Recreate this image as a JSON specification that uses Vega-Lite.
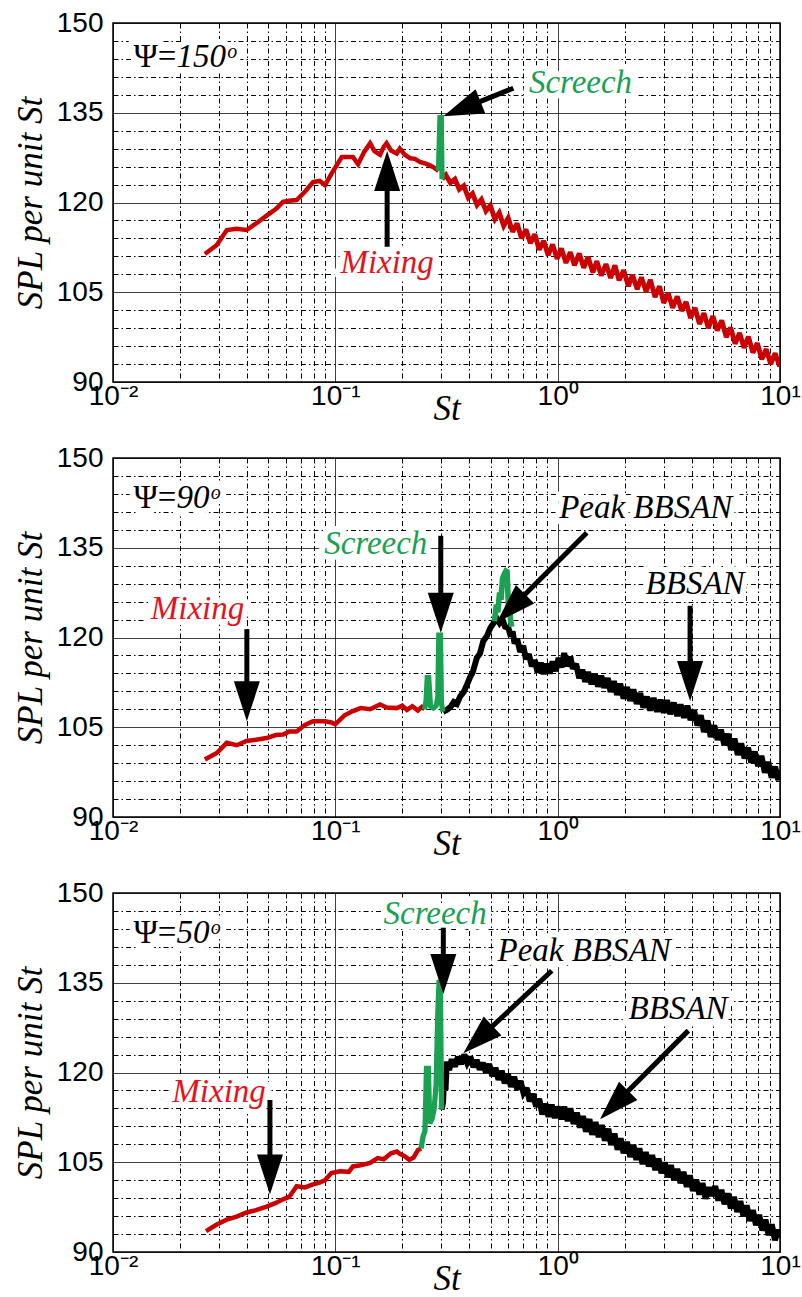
{
"$schema":"https://vega.github.io/schema/vega-lite/v6.json",
"padding":{"left":12,"top":8,"right":0,"bottom":0},
"bounds":"flush",
"spacing":76,
"background":"white",
"config":{
"view":{"stroke":"black","strokeWidth":1.5},
"axis":{"labelFont":"Liberation Sans","labelColor":"black","labelFontSize":28,"titleFont":"Liberation Serif","titleFontStyle":"italic","titleFontWeight":"normal","titleFontSize":35,"titleColor":"black","ticks":false,"domain":false,"grid":true,"gridColor":"black","gridWidth":1,"gridOpacity":1,"tickCount":40}
},
"datasets":{
"curves":[
{"p":1,"s":"r1","St":0.0259,"v":111.4},{"p":1,"s":"r1","St":0.0293,"v":112.9},{"p":1,"s":"r1","St":0.0325,"v":115.4},{"p":1,"s":"r1","St":0.036,"v":115.6},{"p":1,"s":"r1","St":0.0399,"v":115.4},{"p":1,"s":"r1","St":0.044,"v":116.5},{"p":1,"s":"r1","St":0.0491,"v":117.8},{"p":1,"s":"r1","St":0.054,"v":118.9},{"p":1,"s":"r1","St":0.0582,"v":120.1},{"p":1,"s":"r1","St":0.062,"v":120.3},{"p":1,"s":"r1","St":0.067,"v":120.4},{"p":1,"s":"r1","St":0.073,"v":121.8},{"p":1,"s":"r1","St":0.0794,"v":123.4},{"p":1,"s":"r1","St":0.085,"v":123.6},{"p":1,"s":"r1","St":0.0899,"v":122.9},{"p":1,"s":"r1","St":0.096,"v":124.8},{"p":1,"s":"r1","St":0.1069,"v":127.6},{"p":1,"s":"r1","St":0.12,"v":127.6},{"p":1,"s":"r1","St":0.1265,"v":126.4},{"p":1,"s":"r1","St":0.135,"v":128.5},{"p":1,"s":"r1","St":0.1433,"v":129.9},{"p":1,"s":"r1","St":0.15,"v":128.6},{"p":1,"s":"r1","St":0.159,"v":128.0},{"p":1,"s":"r1","St":0.165,"v":129.3},{"p":1,"s":"r1","St":0.17,"v":129.9},{"p":1,"s":"r1","St":0.178,"v":128.7},{"p":1,"s":"r1","St":0.189,"v":128.2},{"p":1,"s":"r1","St":0.195,"v":129.0},{"p":1,"s":"r1","St":0.205,"v":128.0},{"p":1,"s":"r1","St":0.217,"v":127.4},{"p":1,"s":"r1","St":0.228,"v":127.3},{"p":1,"s":"r1","St":0.24,"v":126.8},{"p":1,"s":"r1","St":0.255,"v":126.5},{"p":1,"s":"r1","St":0.266,"v":126.2},{"p":1,"s":"r1","St":0.276,"v":125.9},{"p":1,"s":"r1","St":0.291,"v":125.3},
{"p":1,"s":"r2","St":0.302,"v":123.9},{"p":1,"s":"r2","St":0.314,"v":124.6},{"p":1,"s":"r2","St":0.329,"v":123.3},{"p":1,"s":"r2","St":0.345,"v":123.9},{"p":1,"s":"r2","St":0.361,"v":122.2},{"p":1,"s":"r2","St":0.378,"v":122.8},{"p":1,"s":"r2","St":0.396,"v":120.8},{"p":1,"s":"r2","St":0.414,"v":121.5},{"p":1,"s":"r2","St":0.434,"v":119.6},{"p":1,"s":"r2","St":0.454,"v":120.5},{"p":1,"s":"r2","St":0.476,"v":118.6},{"p":1,"s":"r2","St":0.498,"v":119.5},{"p":1,"s":"r2","St":0.522,"v":117.2},{"p":1,"s":"r2","St":0.546,"v":118.3},{"p":1,"s":"r2","St":0.572,"v":116.1},{"p":1,"s":"r2","St":0.599,"v":117.4},{"p":1,"s":"r2","St":0.627,"v":115.1},{"p":1,"s":"r2","St":0.657,"v":116.5},{"p":1,"s":"r2","St":0.688,"v":114.0},{"p":1,"s":"r2","St":0.72,"v":115.5},{"p":1,"s":"r2","St":0.754,"v":113.2},{"p":1,"s":"r2","St":0.789,"v":114.7},{"p":1,"s":"r2","St":0.826,"v":112.1},{"p":1,"s":"r2","St":0.865,"v":113.6},{"p":1,"s":"r2","St":0.906,"v":111.2},{"p":1,"s":"r2","St":0.949,"v":113.0},{"p":1,"s":"r2","St":0.994,"v":110.6},{"p":1,"s":"r2","St":1.04,"v":112.3},{"p":1,"s":"r2","St":1.09,"v":109.9},{"p":1,"s":"r2","St":1.14,"v":111.7},{"p":1,"s":"r2","St":1.19,"v":109.5},{"p":1,"s":"r2","St":1.25,"v":111.5},{"p":1,"s":"r2","St":1.31,"v":109.1},{"p":1,"s":"r2","St":1.37,"v":110.9},{"p":1,"s":"r2","St":1.44,"v":108.3},{"p":1,"s":"r2","St":1.5,"v":110.2},{"p":1,"s":"r2","St":1.57,"v":107.8},{"p":1,"s":"r2","St":1.65,"v":109.7},{"p":1,"s":"r2","St":1.73,"v":107.4},{"p":1,"s":"r2","St":1.81,"v":109.5},{"p":1,"s":"r2","St":1.89,"v":107.0},{"p":1,"s":"r2","St":1.98,"v":108.7},{"p":1,"s":"r2","St":2.08,"v":106.0},{"p":1,"s":"r2","St":2.17,"v":107.9},{"p":1,"s":"r2","St":2.28,"v":105.5},{"p":1,"s":"r2","St":2.38,"v":107.5},{"p":1,"s":"r2","St":2.5,"v":105.1},{"p":1,"s":"r2","St":2.61,"v":107.1},{"p":1,"s":"r2","St":2.74,"v":104.2},{"p":1,"s":"r2","St":2.87,"v":106.0},{"p":1,"s":"r2","St":3.0,"v":103.2},{"p":1,"s":"r2","St":3.14,"v":104.9},{"p":1,"s":"r2","St":3.29,"v":102.4},{"p":1,"s":"r2","St":3.45,"v":104.3},{"p":1,"s":"r2","St":3.61,"v":101.9},{"p":1,"s":"r2","St":3.78,"v":103.4},{"p":1,"s":"r2","St":3.96,"v":100.7},{"p":1,"s":"r2","St":4.15,"v":102.4},{"p":1,"s":"r2","St":4.34,"v":99.7},{"p":1,"s":"r2","St":4.55,"v":101.5},{"p":1,"s":"r2","St":4.76,"v":99.0},{"p":1,"s":"r2","St":4.99,"v":101.0},{"p":1,"s":"r2","St":5.22,"v":98.6},{"p":1,"s":"r2","St":5.47,"v":100.3},{"p":1,"s":"r2","St":5.73,"v":97.5},{"p":1,"s":"r2","St":6.0,"v":99.1},{"p":1,"s":"r2","St":6.28,"v":96.4},{"p":1,"s":"r2","St":6.58,"v":98.2},{"p":1,"s":"r2","St":6.89,"v":95.7},{"p":1,"s":"r2","St":7.21,"v":97.6},{"p":1,"s":"r2","St":7.55,"v":94.9},{"p":1,"s":"r2","St":7.91,"v":96.5},{"p":1,"s":"r2","St":8.28,"v":93.8},{"p":1,"s":"r2","St":8.67,"v":95.5},{"p":1,"s":"r2","St":9.08,"v":93.0},{"p":1,"s":"r2","St":9.51,"v":94.8},{"p":1,"s":"r2","St":9.96,"v":92.6},{"p":1,"s":"r2","St":10.0,"v":94.0},
{"p":1,"s":"g1","St":0.291,"v":125.3},{"p":1,"s":"g1","St":0.2955,"v":134.2},{"p":1,"s":"g1","St":0.2995,"v":134.2},{"p":1,"s":"g1","St":0.302,"v":123.9},

{"p":2,"s":"r1","St":0.0259,"v":99.6},{"p":2,"s":"r1","St":0.0293,"v":100.7},{"p":2,"s":"r1","St":0.0325,"v":102.4},{"p":2,"s":"r1","St":0.036,"v":102.0},{"p":2,"s":"r1","St":0.0399,"v":102.7},{"p":2,"s":"r1","St":0.044,"v":102.9},{"p":2,"s":"r1","St":0.0491,"v":103.2},{"p":2,"s":"r1","St":0.054,"v":103.7},{"p":2,"s":"r1","St":0.0582,"v":103.8},{"p":2,"s":"r1","St":0.062,"v":104.3},{"p":2,"s":"r1","St":0.067,"v":104.3},{"p":2,"s":"r1","St":0.073,"v":105.4},{"p":2,"s":"r1","St":0.0794,"v":106.0},{"p":2,"s":"r1","St":0.0899,"v":106.0},{"p":2,"s":"r1","St":0.096,"v":105.8},{"p":2,"s":"r1","St":0.1,"v":105.5},{"p":2,"s":"r1","St":0.11,"v":107.0},{"p":2,"s":"r1","St":0.12,"v":107.7},{"p":2,"s":"r1","St":0.13,"v":108.2},{"p":2,"s":"r1","St":0.1433,"v":108.0},{"p":2,"s":"r1","St":0.159,"v":108.8},{"p":2,"s":"r1","St":0.17,"v":108.3},{"p":2,"s":"r1","St":0.189,"v":108.2},{"p":2,"s":"r1","St":0.2,"v":108.6},{"p":2,"s":"r1","St":0.21,"v":107.9},{"p":2,"s":"r1","St":0.222,"v":108.5},{"p":2,"s":"r1","St":0.235,"v":107.8},{"p":2,"s":"r1","St":0.245,"v":108.4},{"p":2,"s":"r1","St":0.252,"v":108.0},
{"p":2,"s":"k","St":0.305,"v":107.6},{"p":2,"s":"k","St":0.317,"v":107.9},{"p":2,"s":"k","St":0.33,"v":108.4},{"p":2,"s":"k","St":0.341,"v":109.2},{"p":2,"s":"k","St":0.352,"v":108.9},{"p":2,"s":"k","St":0.365,"v":110.2},{"p":2,"s":"k","St":0.378,"v":110.9},{"p":2,"s":"k","St":0.39,"v":112.0},{"p":2,"s":"k","St":0.403,"v":113.3},{"p":2,"s":"k","St":0.415,"v":114.2},{"p":2,"s":"k","St":0.433,"v":116.6},{"p":2,"s":"k","St":0.447,"v":117.3},{"p":2,"s":"k","St":0.463,"v":119.4},{"p":2,"s":"k","St":0.48,"v":120.2},{"p":2,"s":"k","St":0.498,"v":121.6},{"p":2,"s":"k","St":0.515,"v":122.4},{"p":2,"s":"k","St":0.532,"v":123.2},{"p":2,"s":"k","St":0.548,"v":122.4},{"p":2,"s":"k","St":0.565,"v":123.0},{"p":2,"s":"k","St":0.58,"v":121.8},{"p":2,"s":"k","St":0.6,"v":121.6},{"p":2,"s":"k","St":0.615,"v":120.2},{"p":2,"s":"k","St":0.627,"v":121.0},{"p":2,"s":"k","St":0.64,"v":119.0},{"p":2,"s":"k","St":0.657,"v":119.8},{"p":2,"s":"k","St":0.678,"v":117.6},{"p":2,"s":"k","St":0.7,"v":118.6},{"p":2,"s":"k","St":0.72,"v":116.4},{"p":2,"s":"k","St":0.742,"v":117.2},{"p":2,"s":"k","St":0.765,"v":115.2},{"p":2,"s":"k","St":0.789,"v":116.2},{"p":2,"s":"k","St":0.812,"v":114.2},{"p":2,"s":"k","St":0.84,"v":115.8},{"p":2,"s":"k","St":0.865,"v":113.9},{"p":2,"s":"k","St":0.89,"v":115.6},{"p":2,"s":"k","St":0.92,"v":114.0},{"p":2,"s":"k","St":0.949,"v":116.0},{"p":2,"s":"k","St":0.98,"v":114.4},{"p":2,"s":"k","St":1.01,"v":116.6},{"p":2,"s":"k","St":1.04,"v":115.0},{"p":2,"s":"k","St":1.07,"v":117.4},{"p":2,"s":"k","St":1.1,"v":115.2},{"p":2,"s":"k","St":1.14,"v":116.8},{"p":2,"s":"k","St":1.17,"v":114.8},{"p":2,"s":"k","St":1.21,"v":115.6},{"p":2,"s":"k","St":1.25,"v":113.2},{"p":2,"s":"k","St":1.29,"v":114.6},{"p":2,"s":"k","St":1.33,"v":112.6},{"p":2,"s":"k","St":1.37,"v":114.2},{"p":2,"s":"k","St":1.42,"v":112.2},{"p":2,"s":"k","St":1.47,"v":113.9},{"p":2,"s":"k","St":1.52,"v":111.8},{"p":2,"s":"k","St":1.57,"v":113.6},{"p":2,"s":"k","St":1.62,"v":111.6},{"p":2,"s":"k","St":1.68,"v":113.2},{"p":2,"s":"k","St":1.73,"v":110.9},{"p":2,"s":"k","St":1.79,"v":112.7},{"p":2,"s":"k","St":1.85,"v":110.4},{"p":2,"s":"k","St":1.91,"v":112.3},{"p":2,"s":"k","St":1.98,"v":109.8},{"p":2,"s":"k","St":2.05,"v":111.7},{"p":2,"s":"k","St":2.12,"v":109.4},{"p":2,"s":"k","St":2.19,"v":111.3},{"p":2,"s":"k","St":2.27,"v":108.9},{"p":2,"s":"k","St":2.35,"v":110.7},{"p":2,"s":"k","St":2.43,"v":108.3},{"p":2,"s":"k","St":2.52,"v":110.1},{"p":2,"s":"k","St":2.61,"v":107.8},{"p":2,"s":"k","St":2.7,"v":109.9},{"p":2,"s":"k","St":2.8,"v":107.6},{"p":2,"s":"k","St":2.9,"v":109.6},{"p":2,"s":"k","St":3.0,"v":107.4},{"p":2,"s":"k","St":3.1,"v":109.5},{"p":2,"s":"k","St":3.21,"v":107.2},{"p":2,"s":"k","St":3.33,"v":109.1},{"p":2,"s":"k","St":3.45,"v":106.9},{"p":2,"s":"k","St":3.57,"v":108.8},{"p":2,"s":"k","St":3.7,"v":106.6},{"p":2,"s":"k","St":3.83,"v":108.6},{"p":2,"s":"k","St":3.96,"v":106.2},{"p":2,"s":"k","St":4.1,"v":107.9},{"p":2,"s":"k","St":4.25,"v":105.3},{"p":2,"s":"k","St":4.4,"v":107.0},{"p":2,"s":"k","St":4.55,"v":104.2},{"p":2,"s":"k","St":4.72,"v":106.1},{"p":2,"s":"k","St":4.88,"v":103.4},{"p":2,"s":"k","St":5.06,"v":105.3},{"p":2,"s":"k","St":5.24,"v":102.9},{"p":2,"s":"k","St":5.42,"v":104.6},{"p":2,"s":"k","St":5.62,"v":102.0},{"p":2,"s":"k","St":5.82,"v":103.9},{"p":2,"s":"k","St":6.03,"v":101.2},{"p":2,"s":"k","St":6.24,"v":103.1},{"p":2,"s":"k","St":6.46,"v":100.4},{"p":2,"s":"k","St":6.69,"v":102.3},{"p":2,"s":"k","St":6.93,"v":99.8},{"p":2,"s":"k","St":7.18,"v":101.6},{"p":2,"s":"k","St":7.43,"v":99.1},{"p":2,"s":"k","St":7.7,"v":100.9},{"p":2,"s":"k","St":7.97,"v":98.5},{"p":2,"s":"k","St":8.25,"v":100.2},{"p":2,"s":"k","St":8.55,"v":97.4},{"p":2,"s":"k","St":8.85,"v":99.2},{"p":2,"s":"k","St":9.17,"v":96.6},{"p":2,"s":"k","St":9.5,"v":98.4},{"p":2,"s":"k","St":9.83,"v":96.2},{"p":2,"s":"k","St":10.0,"v":97.8},
{"p":2,"s":"g1","St":0.252,"v":108.0},{"p":2,"s":"g1","St":0.256,"v":109.5},{"p":2,"s":"g1","St":0.259,"v":113.3},{"p":2,"s":"g1","St":0.263,"v":113.3},{"p":2,"s":"g1","St":0.268,"v":108.5},{"p":2,"s":"g1","St":0.276,"v":108.2},{"p":2,"s":"g1","St":0.284,"v":108.6},{"p":2,"s":"g1","St":0.289,"v":110.0},{"p":2,"s":"g1","St":0.292,"v":120.4},{"p":2,"s":"g1","St":0.297,"v":120.4},{"p":2,"s":"g1","St":0.3,"v":109.0},{"p":2,"s":"g1","St":0.305,"v":107.6},
{"p":2,"s":"g2","St":0.52,"v":122.7},{"p":2,"s":"g2","St":0.53,"v":125.5},{"p":2,"s":"g2","St":0.538,"v":124.2},{"p":2,"s":"g2","St":0.548,"v":127.5},{"p":2,"s":"g2","St":0.556,"v":126.3},{"p":2,"s":"g2","St":0.565,"v":129.8},{"p":2,"s":"g2","St":0.575,"v":130.6},{"p":2,"s":"g2","St":0.585,"v":131.1},{"p":2,"s":"g2","St":0.592,"v":131.0},{"p":2,"s":"g2","St":0.598,"v":127.0},{"p":2,"s":"g2","St":0.603,"v":124.0},{"p":2,"s":"g2","St":0.608,"v":125.5},{"p":2,"s":"g2","St":0.614,"v":122.8},{"p":2,"s":"g2","St":0.622,"v":121.8},

{"p":3,"s":"r1","St":0.0262,"v":93.5},{"p":3,"s":"r1","St":0.0293,"v":94.6},{"p":3,"s":"r1","St":0.0325,"v":95.4},{"p":3,"s":"r1","St":0.036,"v":95.9},{"p":3,"s":"r1","St":0.0399,"v":96.6},{"p":3,"s":"r1","St":0.044,"v":97.0},{"p":3,"s":"r1","St":0.0491,"v":97.6},{"p":3,"s":"r1","St":0.054,"v":98.2},{"p":3,"s":"r1","St":0.0582,"v":98.8},{"p":3,"s":"r1","St":0.062,"v":99.2},{"p":3,"s":"r1","St":0.067,"v":101.0},{"p":3,"s":"r1","St":0.073,"v":100.8},{"p":3,"s":"r1","St":0.0794,"v":101.3},{"p":3,"s":"r1","St":0.085,"v":101.6},{"p":3,"s":"r1","St":0.0899,"v":102.0},{"p":3,"s":"r1","St":0.096,"v":103.2},{"p":3,"s":"r1","St":0.105,"v":103.5},{"p":3,"s":"r1","St":0.115,"v":103.4},{"p":3,"s":"r1","St":0.12,"v":104.3},{"p":3,"s":"r1","St":0.13,"v":104.5},{"p":3,"s":"r1","St":0.1433,"v":104.9},{"p":3,"s":"r1","St":0.155,"v":105.7},{"p":3,"s":"r1","St":0.165,"v":105.5},{"p":3,"s":"r1","St":0.178,"v":106.5},{"p":3,"s":"r1","St":0.189,"v":106.8},{"p":3,"s":"r1","St":0.195,"v":106.4},{"p":3,"s":"r1","St":0.205,"v":106.0},{"p":3,"s":"r1","St":0.215,"v":105.4},{"p":3,"s":"r1","St":0.225,"v":105.8},{"p":3,"s":"r1","St":0.235,"v":107.0},{"p":3,"s":"r1","St":0.243,"v":107.3},
{"p":3,"s":"k","St":0.3005,"v":113.8},{"p":3,"s":"k","St":0.305,"v":115.0},{"p":3,"s":"k","St":0.309,"v":119.5},{"p":3,"s":"k","St":0.313,"v":117.0},{"p":3,"s":"k","St":0.317,"v":121.8},{"p":3,"s":"k","St":0.325,"v":120.4},{"p":3,"s":"k","St":0.334,"v":122.2},{"p":3,"s":"k","St":0.345,"v":121.0},{"p":3,"s":"k","St":0.356,"v":122.6},{"p":3,"s":"k","St":0.368,"v":121.4},{"p":3,"s":"k","St":0.38,"v":123.0},{"p":3,"s":"k","St":0.392,"v":121.6},{"p":3,"s":"k","St":0.405,"v":122.6},{"p":3,"s":"k","St":0.418,"v":120.9},{"p":3,"s":"k","St":0.432,"v":122.1},{"p":3,"s":"k","St":0.446,"v":120.5},{"p":3,"s":"k","St":0.461,"v":121.6},{"p":3,"s":"k","St":0.476,"v":120.0},{"p":3,"s":"k","St":0.492,"v":121.4},{"p":3,"s":"k","St":0.508,"v":119.4},{"p":3,"s":"k","St":0.525,"v":120.8},{"p":3,"s":"k","St":0.542,"v":118.8},{"p":3,"s":"k","St":0.56,"v":120.3},{"p":3,"s":"k","St":0.578,"v":118.2},{"p":3,"s":"k","St":0.597,"v":119.8},{"p":3,"s":"k","St":0.617,"v":117.6},{"p":3,"s":"k","St":0.637,"v":119.3},{"p":3,"s":"k","St":0.658,"v":117.2},{"p":3,"s":"k","St":0.68,"v":118.6},{"p":3,"s":"k","St":0.702,"v":116.6},{"p":3,"s":"k","St":0.725,"v":117.4},{"p":3,"s":"k","St":0.749,"v":115.2},{"p":3,"s":"k","St":0.774,"v":116.4},{"p":3,"s":"k","St":0.8,"v":114.3},{"p":3,"s":"k","St":0.826,"v":115.6},{"p":3,"s":"k","St":0.853,"v":113.0},{"p":3,"s":"k","St":0.881,"v":114.8},{"p":3,"s":"k","St":0.91,"v":112.6},{"p":3,"s":"k","St":0.94,"v":114.6},{"p":3,"s":"k","St":0.971,"v":112.4},{"p":3,"s":"k","St":1.0,"v":114.3},{"p":3,"s":"k","St":1.04,"v":112.2},{"p":3,"s":"k","St":1.07,"v":114.3},{"p":3,"s":"k","St":1.11,"v":111.9},{"p":3,"s":"k","St":1.14,"v":114.0},{"p":3,"s":"k","St":1.18,"v":111.4},{"p":3,"s":"k","St":1.22,"v":113.3},{"p":3,"s":"k","St":1.26,"v":110.8},{"p":3,"s":"k","St":1.3,"v":112.7},{"p":3,"s":"k","St":1.34,"v":110.1},{"p":3,"s":"k","St":1.39,"v":112.2},{"p":3,"s":"k","St":1.43,"v":109.6},{"p":3,"s":"k","St":1.48,"v":111.7},{"p":3,"s":"k","St":1.53,"v":109.2},{"p":3,"s":"k","St":1.58,"v":111.2},{"p":3,"s":"k","St":1.63,"v":108.6},{"p":3,"s":"k","St":1.69,"v":110.6},{"p":3,"s":"k","St":1.74,"v":107.9},{"p":3,"s":"k","St":1.8,"v":109.8},{"p":3,"s":"k","St":1.86,"v":107.1},{"p":3,"s":"k","St":1.92,"v":109.0},{"p":3,"s":"k","St":1.98,"v":106.5},{"p":3,"s":"k","St":2.05,"v":108.4},{"p":3,"s":"k","St":2.12,"v":105.9},{"p":3,"s":"k","St":2.19,"v":107.9},{"p":3,"s":"k","St":2.26,"v":105.4},{"p":3,"s":"k","St":2.33,"v":107.3},{"p":3,"s":"k","St":2.41,"v":104.7},{"p":3,"s":"k","St":2.49,"v":106.7},{"p":3,"s":"k","St":2.57,"v":104.3},{"p":3,"s":"k","St":2.66,"v":106.2},{"p":3,"s":"k","St":2.75,"v":103.7},{"p":3,"s":"k","St":2.84,"v":105.6},{"p":3,"s":"k","St":2.93,"v":103.2},{"p":3,"s":"k","St":3.03,"v":105.0},{"p":3,"s":"k","St":3.13,"v":102.5},{"p":3,"s":"k","St":3.23,"v":104.5},{"p":3,"s":"k","St":3.34,"v":102.0},{"p":3,"s":"k","St":3.45,"v":103.9},{"p":3,"s":"k","St":3.57,"v":101.5},{"p":3,"s":"k","St":3.68,"v":103.4},{"p":3,"s":"k","St":3.81,"v":100.9},{"p":3,"s":"k","St":3.93,"v":102.8},{"p":3,"s":"k","St":4.06,"v":100.2},{"p":3,"s":"k","St":4.2,"v":102.1},{"p":3,"s":"k","St":4.34,"v":99.6},{"p":3,"s":"k","St":4.48,"v":101.5},{"p":3,"s":"k","St":4.63,"v":98.9},{"p":3,"s":"k","St":4.79,"v":100.8},{"p":3,"s":"k","St":4.94,"v":99.4},{"p":3,"s":"k","St":5.11,"v":101.0},{"p":3,"s":"k","St":5.28,"v":98.6},{"p":3,"s":"k","St":5.45,"v":100.4},{"p":3,"s":"k","St":5.63,"v":98.0},{"p":3,"s":"k","St":5.82,"v":99.8},{"p":3,"s":"k","St":6.01,"v":97.3},{"p":3,"s":"k","St":6.21,"v":99.2},{"p":3,"s":"k","St":6.42,"v":96.7},{"p":3,"s":"k","St":6.63,"v":98.5},{"p":3,"s":"k","St":6.85,"v":96.0},{"p":3,"s":"k","St":7.08,"v":97.8},{"p":3,"s":"k","St":7.31,"v":95.2},{"p":3,"s":"k","St":7.55,"v":97.0},{"p":3,"s":"k","St":7.8,"v":94.5},{"p":3,"s":"k","St":8.06,"v":96.2},{"p":3,"s":"k","St":8.33,"v":93.6},{"p":3,"s":"k","St":8.6,"v":95.4},{"p":3,"s":"k","St":8.89,"v":92.8},{"p":3,"s":"k","St":9.18,"v":94.6},{"p":3,"s":"k","St":9.49,"v":92.0},{"p":3,"s":"k","St":9.8,"v":93.7},{"p":3,"s":"k","St":10.0,"v":92.4},
{"p":3,"s":"g1","St":0.243,"v":107.3},{"p":3,"s":"g1","St":0.248,"v":109.3},{"p":3,"s":"g1","St":0.253,"v":110.2},{"p":3,"s":"g1","St":0.257,"v":120.7},{"p":3,"s":"g1","St":0.262,"v":120.7},{"p":3,"s":"g1","St":0.266,"v":111.5},{"p":3,"s":"g1","St":0.272,"v":112.2},{"p":3,"s":"g1","St":0.278,"v":113.8},{"p":3,"s":"g1","St":0.284,"v":118.0},{"p":3,"s":"g1","St":0.289,"v":130.0},{"p":3,"s":"g1","St":0.293,"v":135.5},{"p":3,"s":"g1","St":0.297,"v":133.0},{"p":3,"s":"g1","St":0.3005,"v":113.8}
],
"arrows":[
{"p":1,"x":0.171,"y":112.6,"x2":0.171,"y2":128.6},
{"p":1,"x":0.632,"y":139.1,"x2":0.306,"y2":134.4},
{"p":2,"x":0.040,"y":121.4,"x2":0.040,"y2":106.0},
{"p":2,"x":0.298,"y":137.0,"x2":0.298,"y2":120.8},
{"p":2,"x":1.352,"y":137.5,"x2":0.532,"y2":122.5},
{"p":2,"x":3.94,"y":125.3,"x2":3.94,"y2":109.4},
{"p":3,"x":0.0508,"y":115.4,"x2":0.0508,"y2":99.6},
{"p":3,"x":0.306,"y":144.2,"x2":0.306,"y2":133.1},
{"p":3,"x":0.941,"y":137.0,"x2":0.3765,"y2":123.2},
{"p":3,"x":3.87,"y":127.0,"x2":1.55,"y2":112.2}
],
"labels":[
{"p":1,"St":0.171,"v":109.9,"text":"Mixing","k":"mix"},
{"p":1,"St":1.267,"v":140.0,"text":"Screech","k":"scr"},
{"p":2,"St":0.024,"v":124.7,"text":"Mixing","k":"mix"},
{"p":2,"St":0.152,"v":135.6,"text":"Screech","k":"scr"},
{"p":2,"St":2.49,"v":141.7,"text":"Peak BBSAN","k":"bb"},
{"p":2,"St":4.15,"v":128.9,"text":"BBSAN","k":"bb"},
{"p":3,"St":0.030,"v":116.8,"text":"Mixing","k":"mix"},
{"p":3,"St":0.281,"v":146.5,"text":"Screech","k":"scr"},
{"p":3,"St":1.315,"v":140.3,"text":"Peak BBSAN","k":"bb"},
{"p":3,"St":3.48,"v":130.6,"text":"BBSAN","k":"bb"}
],
"psi":[
{"p":1,"St":0.0193,"v":144.3,"num":"150ᵒ"},
{"p":2,"St":0.0193,"v":143.3,"num":"90ᵒ"},
{"p":3,"St":0.0193,"v":143.3,"num":"50ᵒ"}
]
},
"vconcat":[
{"width":667,"height":359,"resolve":{"scale":{"color":"independent","strokeWidth":"independent"}},"layer":[
{"data":{"name":"curves"},"transform":[{"filter":"datum.p == 1"}],"mark":{"type":"line","strokeJoin":"miter","strokeMiterLimit":2.5,"clip":true},
"encoding":{
"x":{"field":"St","type":"quantitative","scale":{"type":"log","domain":[0.01,10],"nice":false},"axis":{"title":"St","values":[0.01,0.02,0.03,0.04,0.05,0.06,0.07,0.08,0.09,0.1,0.2,0.3,0.4,0.5,0.6,0.7,0.8,0.9,1,2,3,4,5,6,7,8,9,10],"tickCount":40,"gridDash":{"condition":{"test":"indexof([0.01,0.1,1,10], datum.value) >= 0","value":[1,0]},"value":[5,3,1.5,3]},"labelExpr":"datum.value == 0.01 ? '10⁻²' : datum.value == 0.1 ? '10⁻¹' : datum.value == 1 ? '10⁰' : datum.value == 10 ? '10¹' : ''","labelPadding":0,"labelFlush":false,"labelOverlap":false,"titlePadding":-19}},
"y":{"field":"v","type":"quantitative","scale":{"domain":[90,150],"nice":false,"zero":false},"axis":{"title":"SPL per unit St","values":[90,93,96,99,102,105,108,111,114,117,120,123,126,129,132,135,138,141,144,147,150],"tickCount":40,"gridDash":{"condition":{"test":"datum.value % 15 == 0","value":[1,0]},"value":[5,3,1.5,3]},"labelExpr":"datum.value % 15 == 0 ? datum.label : ''","labelPadding":10,"labelOverlap":false,"titlePadding":8}},
"color":{"field":"s","type":"nominal","scale":{"domain":["r1","r2","g1","g2","k"],"range":["#cc0000","#cc0000","#1aa152","#1aa152","#000000"]},"legend":null},
"strokeWidth":{"field":"s","type":"nominal","scale":{"domain":["r1","r2","g1","g2","k"],"range":[4.5,6,6,5,6]},"legend":null}}},
{"data":{"name":"labels"},"transform":[{"filter":"datum.p == 1"}],"mark":{"type":"text","font":"Liberation Serif","fontStyle":"italic","fontSize":33,"baseline":"middle","align":"center","fill":"white","stroke":"white","strokeWidth":12,"strokeJoin":"round"},
"encoding":{"x":{"field":"St","type":"quantitative"},"y":{"field":"v","type":"quantitative"},"text":{"field":"text"}}},
{"data":{"name":"psi"},"transform":[{"filter":"datum.p == 1"}],"mark":{"type":"text","font":"Liberation Serif","fontSize":33,"baseline":"middle","align":"right","fill":"white","stroke":"white","strokeWidth":12,"strokeJoin":"round"},
"encoding":{"x":{"field":"St","type":"quantitative"},"y":{"field":"v","type":"quantitative"},"text":{"value":"Ψ="}}},
{"data":{"name":"psi"},"transform":[{"filter":"datum.p == 1"}],"mark":{"type":"text","font":"Liberation Serif","fontStyle":"italic","fontSize":33,"baseline":"middle","align":"left","fill":"white","stroke":"white","strokeWidth":12,"strokeJoin":"round"},
"encoding":{"x":{"field":"St","type":"quantitative"},"y":{"field":"v","type":"quantitative"},"text":{"field":"num"}}},
{"data":{"name":"arrows"},"transform":[{"filter":"datum.p == 1"},{"calculate":"(log(datum.x2)-log(datum.x))/LN10*222.33","as":"dxp"},{"calculate":"(datum.y2-datum.y)*5.983","as":"dyp"},{"calculate":"1-20/sqrt(datum.dxp*datum.dxp+datum.dyp*datum.dyp)","as":"f"},{"calculate":"pow(10,(log(datum.x)+datum.f*(log(datum.x2)-log(datum.x)))/LN10)","as":"xs"},{"calculate":"datum.y+datum.f*(datum.y2-datum.y)","as":"ys"},{"calculate":"atan2(datum.dxp,datum.dyp)*180/PI","as":"ang"}],
"layer":[
{"mark":{"type":"rule","color":"black","strokeWidth":5},"encoding":{"x":{"field":"x","type":"quantitative"},"y":{"field":"y","type":"quantitative"},"x2":{"field":"xs"},"y2":{"field":"ys"}}},
{"mark":{"type":"point","shape":"M0,0L0.65,2L-0.65,2Z","filled":true,"color":"black","opacity":1,"size":1600,"strokeWidth":0},"encoding":{"x":{"field":"x2","type":"quantitative"},"y":{"field":"y2","type":"quantitative"},"angle":{"field":"ang","type":"quantitative","scale":null}}}
]},
{"data":{"name":"labels"},"transform":[{"filter":"datum.p == 1"}],"mark":{"type":"text","font":"Liberation Serif","fontStyle":"italic","fontSize":33,"baseline":"middle","align":"center"},
"encoding":{"x":{"field":"St","type":"quantitative"},"y":{"field":"v","type":"quantitative"},"text":{"field":"text"},"color":{"field":"k","type":"nominal","scale":{"domain":["mix","scr","bb"],"range":["#e3141e","#1aa152","#000000"]},"legend":null}}},
{"data":{"name":"psi"},"transform":[{"filter":"datum.p == 1"}],"mark":{"type":"text","font":"Liberation Serif","fontSize":33,"baseline":"middle","align":"right","color":"black"},
"encoding":{"x":{"field":"St","type":"quantitative"},"y":{"field":"v","type":"quantitative"},"text":{"value":"Ψ="}}},
{"data":{"name":"psi"},"transform":[{"filter":"datum.p == 1"}],"mark":{"type":"text","font":"Liberation Serif","fontStyle":"italic","fontSize":33,"baseline":"middle","align":"left","color":"black"},
"encoding":{"x":{"field":"St","type":"quantitative"},"y":{"field":"v","type":"quantitative"},"text":{"field":"num"}}}
]},
{"width":667,"height":359,"resolve":{"scale":{"color":"independent","strokeWidth":"independent"}},"layer":[
{"data":{"name":"curves"},"transform":[{"filter":"datum.p == 2"}],"mark":{"type":"line","strokeJoin":"miter","strokeMiterLimit":2.5,"clip":true},
"encoding":{
"x":{"field":"St","type":"quantitative","scale":{"type":"log","domain":[0.01,10],"nice":false},"axis":{"title":"St","values":[0.01,0.02,0.03,0.04,0.05,0.06,0.07,0.08,0.09,0.1,0.2,0.3,0.4,0.5,0.6,0.7,0.8,0.9,1,2,3,4,5,6,7,8,9,10],"tickCount":40,"gridDash":{"condition":{"test":"indexof([0.01,0.1,1,10], datum.value) >= 0","value":[1,0]},"value":[5,3,1.5,3]},"labelExpr":"datum.value == 0.01 ? '10⁻²' : datum.value == 0.1 ? '10⁻¹' : datum.value == 1 ? '10⁰' : datum.value == 10 ? '10¹' : ''","labelPadding":0,"labelFlush":false,"labelOverlap":false,"titlePadding":-19}},
"y":{"field":"v","type":"quantitative","scale":{"domain":[90,150],"nice":false,"zero":false},"axis":{"title":"SPL per unit St","values":[90,93,96,99,102,105,108,111,114,117,120,123,126,129,132,135,138,141,144,147,150],"tickCount":40,"gridDash":{"condition":{"test":"datum.value % 15 == 0","value":[1,0]},"value":[5,3,1.5,3]},"labelExpr":"datum.value % 15 == 0 ? datum.label : ''","labelPadding":10,"labelOverlap":false,"titlePadding":8}},
"color":{"field":"s","type":"nominal","scale":{"domain":["r1","r2","g1","g2","k"],"range":["#cc0000","#cc0000","#1aa152","#1aa152","#000000"]},"legend":null},
"strokeWidth":{"field":"s","type":"nominal","scale":{"domain":["r1","r2","g1","g2","k"],"range":[4.5,6,6,5,6]},"legend":null}}},
{"data":{"name":"labels"},"transform":[{"filter":"datum.p == 2"}],"mark":{"type":"text","font":"Liberation Serif","fontStyle":"italic","fontSize":33,"baseline":"middle","align":"center","fill":"white","stroke":"white","strokeWidth":12,"strokeJoin":"round"},
"encoding":{"x":{"field":"St","type":"quantitative"},"y":{"field":"v","type":"quantitative"},"text":{"field":"text"}}},
{"data":{"name":"psi"},"transform":[{"filter":"datum.p == 2"}],"mark":{"type":"text","font":"Liberation Serif","fontSize":33,"baseline":"middle","align":"right","fill":"white","stroke":"white","strokeWidth":12,"strokeJoin":"round"},
"encoding":{"x":{"field":"St","type":"quantitative"},"y":{"field":"v","type":"quantitative"},"text":{"value":"Ψ="}}},
{"data":{"name":"psi"},"transform":[{"filter":"datum.p == 2"}],"mark":{"type":"text","font":"Liberation Serif","fontStyle":"italic","fontSize":33,"baseline":"middle","align":"left","fill":"white","stroke":"white","strokeWidth":12,"strokeJoin":"round"},
"encoding":{"x":{"field":"St","type":"quantitative"},"y":{"field":"v","type":"quantitative"},"text":{"field":"num"}}},
{"data":{"name":"arrows"},"transform":[{"filter":"datum.p == 2"},{"calculate":"(log(datum.x2)-log(datum.x))/LN10*222.33","as":"dxp"},{"calculate":"(datum.y2-datum.y)*5.983","as":"dyp"},{"calculate":"1-20/sqrt(datum.dxp*datum.dxp+datum.dyp*datum.dyp)","as":"f"},{"calculate":"pow(10,(log(datum.x)+datum.f*(log(datum.x2)-log(datum.x)))/LN10)","as":"xs"},{"calculate":"datum.y+datum.f*(datum.y2-datum.y)","as":"ys"},{"calculate":"atan2(datum.dxp,datum.dyp)*180/PI","as":"ang"}],
"layer":[
{"mark":{"type":"rule","color":"black","strokeWidth":5},"encoding":{"x":{"field":"x","type":"quantitative"},"y":{"field":"y","type":"quantitative"},"x2":{"field":"xs"},"y2":{"field":"ys"}}},
{"mark":{"type":"point","shape":"M0,0L0.65,2L-0.65,2Z","filled":true,"color":"black","opacity":1,"size":1600,"strokeWidth":0},"encoding":{"x":{"field":"x2","type":"quantitative"},"y":{"field":"y2","type":"quantitative"},"angle":{"field":"ang","type":"quantitative","scale":null}}}
]},
{"data":{"name":"labels"},"transform":[{"filter":"datum.p == 2"}],"mark":{"type":"text","font":"Liberation Serif","fontStyle":"italic","fontSize":33,"baseline":"middle","align":"center"},
"encoding":{"x":{"field":"St","type":"quantitative"},"y":{"field":"v","type":"quantitative"},"text":{"field":"text"},"color":{"field":"k","type":"nominal","scale":{"domain":["mix","scr","bb"],"range":["#e3141e","#1aa152","#000000"]},"legend":null}}},
{"data":{"name":"psi"},"transform":[{"filter":"datum.p == 2"}],"mark":{"type":"text","font":"Liberation Serif","fontSize":33,"baseline":"middle","align":"right","color":"black"},
"encoding":{"x":{"field":"St","type":"quantitative"},"y":{"field":"v","type":"quantitative"},"text":{"value":"Ψ="}}},
{"data":{"name":"psi"},"transform":[{"filter":"datum.p == 2"}],"mark":{"type":"text","font":"Liberation Serif","fontStyle":"italic","fontSize":33,"baseline":"middle","align":"left","color":"black"},
"encoding":{"x":{"field":"St","type":"quantitative"},"y":{"field":"v","type":"quantitative"},"text":{"field":"num"}}}
]},
{"width":667,"height":359,"resolve":{"scale":{"color":"independent","strokeWidth":"independent"}},"layer":[
{"data":{"name":"curves"},"transform":[{"filter":"datum.p == 3"}],"mark":{"type":"line","strokeJoin":"miter","strokeMiterLimit":2.5,"clip":true},
"encoding":{
"x":{"field":"St","type":"quantitative","scale":{"type":"log","domain":[0.01,10],"nice":false},"axis":{"title":"St","values":[0.01,0.02,0.03,0.04,0.05,0.06,0.07,0.08,0.09,0.1,0.2,0.3,0.4,0.5,0.6,0.7,0.8,0.9,1,2,3,4,5,6,7,8,9,10],"tickCount":40,"gridDash":{"condition":{"test":"indexof([0.01,0.1,1,10], datum.value) >= 0","value":[1,0]},"value":[5,3,1.5,3]},"labelExpr":"datum.value == 0.01 ? '10⁻²' : datum.value == 0.1 ? '10⁻¹' : datum.value == 1 ? '10⁰' : datum.value == 10 ? '10¹' : ''","labelPadding":0,"labelFlush":false,"labelOverlap":false,"titlePadding":-19}},
"y":{"field":"v","type":"quantitative","scale":{"domain":[90,150],"nice":false,"zero":false},"axis":{"title":"SPL per unit St","values":[90,93,96,99,102,105,108,111,114,117,120,123,126,129,132,135,138,141,144,147,150],"tickCount":40,"gridDash":{"condition":{"test":"datum.value % 15 == 0","value":[1,0]},"value":[5,3,1.5,3]},"labelExpr":"datum.value % 15 == 0 ? datum.label : ''","labelPadding":10,"labelOverlap":false,"titlePadding":8}},
"color":{"field":"s","type":"nominal","scale":{"domain":["r1","r2","g1","g2","k"],"range":["#cc0000","#cc0000","#1aa152","#1aa152","#000000"]},"legend":null},
"strokeWidth":{"field":"s","type":"nominal","scale":{"domain":["r1","r2","g1","g2","k"],"range":[4.5,6,6,5,6]},"legend":null}}},
{"data":{"name":"labels"},"transform":[{"filter":"datum.p == 3"}],"mark":{"type":"text","font":"Liberation Serif","fontStyle":"italic","fontSize":33,"baseline":"middle","align":"center","fill":"white","stroke":"white","strokeWidth":12,"strokeJoin":"round"},
"encoding":{"x":{"field":"St","type":"quantitative"},"y":{"field":"v","type":"quantitative"},"text":{"field":"text"}}},
{"data":{"name":"psi"},"transform":[{"filter":"datum.p == 3"}],"mark":{"type":"text","font":"Liberation Serif","fontSize":33,"baseline":"middle","align":"right","fill":"white","stroke":"white","strokeWidth":12,"strokeJoin":"round"},
"encoding":{"x":{"field":"St","type":"quantitative"},"y":{"field":"v","type":"quantitative"},"text":{"value":"Ψ="}}},
{"data":{"name":"psi"},"transform":[{"filter":"datum.p == 3"}],"mark":{"type":"text","font":"Liberation Serif","fontStyle":"italic","fontSize":33,"baseline":"middle","align":"left","fill":"white","stroke":"white","strokeWidth":12,"strokeJoin":"round"},
"encoding":{"x":{"field":"St","type":"quantitative"},"y":{"field":"v","type":"quantitative"},"text":{"field":"num"}}},
{"data":{"name":"arrows"},"transform":[{"filter":"datum.p == 3"},{"calculate":"(log(datum.x2)-log(datum.x))/LN10*222.33","as":"dxp"},{"calculate":"(datum.y2-datum.y)*5.983","as":"dyp"},{"calculate":"1-20/sqrt(datum.dxp*datum.dxp+datum.dyp*datum.dyp)","as":"f"},{"calculate":"pow(10,(log(datum.x)+datum.f*(log(datum.x2)-log(datum.x)))/LN10)","as":"xs"},{"calculate":"datum.y+datum.f*(datum.y2-datum.y)","as":"ys"},{"calculate":"atan2(datum.dxp,datum.dyp)*180/PI","as":"ang"}],
"layer":[
{"mark":{"type":"rule","color":"black","strokeWidth":5},"encoding":{"x":{"field":"x","type":"quantitative"},"y":{"field":"y","type":"quantitative"},"x2":{"field":"xs"},"y2":{"field":"ys"}}},
{"mark":{"type":"point","shape":"M0,0L0.65,2L-0.65,2Z","filled":true,"color":"black","opacity":1,"size":1600,"strokeWidth":0},"encoding":{"x":{"field":"x2","type":"quantitative"},"y":{"field":"y2","type":"quantitative"},"angle":{"field":"ang","type":"quantitative","scale":null}}}
]},
{"data":{"name":"labels"},"transform":[{"filter":"datum.p == 3"}],"mark":{"type":"text","font":"Liberation Serif","fontStyle":"italic","fontSize":33,"baseline":"middle","align":"center"},
"encoding":{"x":{"field":"St","type":"quantitative"},"y":{"field":"v","type":"quantitative"},"text":{"field":"text"},"color":{"field":"k","type":"nominal","scale":{"domain":["mix","scr","bb"],"range":["#e3141e","#1aa152","#000000"]},"legend":null}}},
{"data":{"name":"psi"},"transform":[{"filter":"datum.p == 3"}],"mark":{"type":"text","font":"Liberation Serif","fontSize":33,"baseline":"middle","align":"right","color":"black"},
"encoding":{"x":{"field":"St","type":"quantitative"},"y":{"field":"v","type":"quantitative"},"text":{"value":"Ψ="}}},
{"data":{"name":"psi"},"transform":[{"filter":"datum.p == 3"}],"mark":{"type":"text","font":"Liberation Serif","fontStyle":"italic","fontSize":33,"baseline":"middle","align":"left","color":"black"},
"encoding":{"x":{"field":"St","type":"quantitative"},"y":{"field":"v","type":"quantitative"},"text":{"field":"num"}}}
]}
]
}
